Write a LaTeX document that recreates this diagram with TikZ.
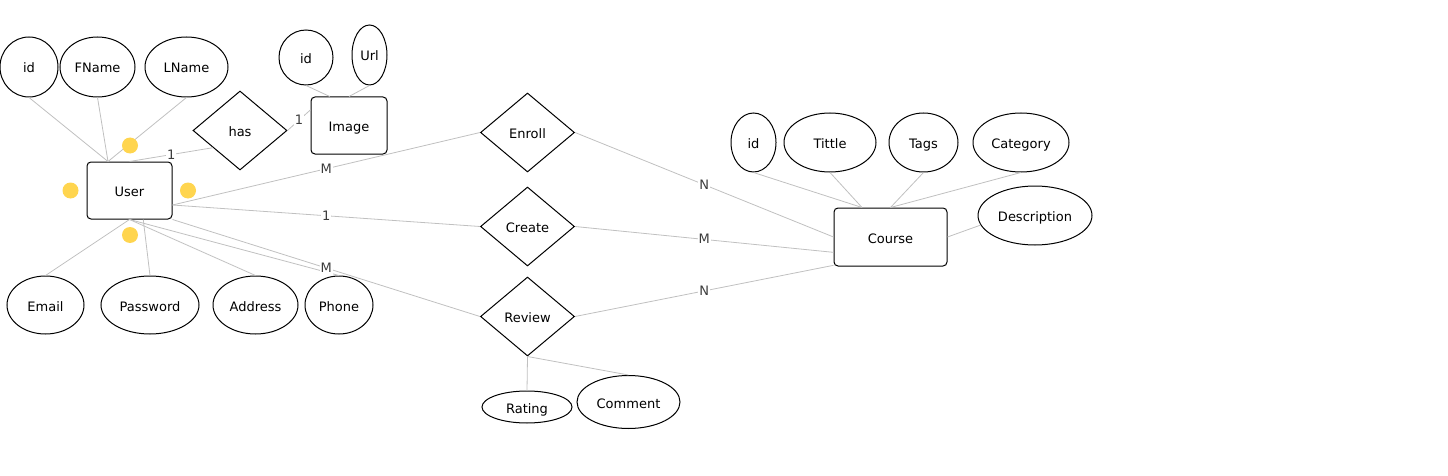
\documentclass[tikz,border=0pt]{standalone}
\usepackage{fontspec}
\setmainfont{DejaVu Sans}
\usetikzlibrary{shapes.geometric,calc}
\definecolor{linegray}{RGB}{192,192,192}
\definecolor{dotyellow}{RGB}{255,213,79}
\definecolor{cardgray}{RGB}{60,60,60}

\begin{document}
\begin{tikzpicture}[x=1pt, y=-1pt,
  every node/.style = {font=\fontsize{13}{15}\selectfont, inner sep=0pt,
    text height=12pt, text depth=0pt},
  entity/.style 2 args = {draw, line width=1pt, rounded corners=4pt,
    minimum width=#1, minimum height=#2},
  attr/.style 2 args = {draw, ellipse, line width=1pt,
    minimum width=#1, minimum height=#2},
  rel/.style = {draw, diamond, line width=1pt,
    minimum width=94pt, minimum height=79pt},
  link/.style = {draw=linegray, line width=0.8pt},
  card/.style = {fill=white, text=cardgray, inner sep=1pt,
    text height=10pt, text depth=1pt},
  hint/.style = {circle, fill=dotyellow, minimum size=16pt}]
  \useasboundingbox (0,0) rectangle (1448,476);

  \node[entity={85pt}{57pt}] (user) at (129.5,190.5) {User};
  \node[attr={58pt}{60pt}] (uid) at (29,67) {id};
  \node[attr={75pt}{60pt}] (fname) at (97.5,67) {FName};
  \node[attr={83pt}{60pt}] (lname) at (186.5,67) {LName};
  \node[attr={77pt}{58pt}] (email) at (45.5,305) {Email};
  \node[attr={98pt}{58pt}] (password) at (150,305) {Password};
  \node[attr={85pt}{58pt}] (address) at (255.5,305) {Address};
  \node[attr={68pt}{58pt}] (phone) at (339,305) {Phone};

  \node[rel] (has) at (240,130.5) {has};
  \node[entity={76pt}{57pt}] (image) at (349,125.5) {Image};
  \node[attr={54pt}{55pt}] (imgid) at (306,57.5) {id};
  \node[attr={35pt}{60pt}] (url) at (369.5,55) {Url};

  \node[rel] (enroll) at (527.5,132.5) {Enroll};
  \node[rel] (create) at (527.5,226.5) {Create};
  \node[rel] (review) at (527.5,316.5) {Review};
  \node[attr={90pt}{32pt}] (rating) at (527,407) {Rating};
  \node[attr={103pt}{53pt}] (comment) at (628.5,402) {Comment};

  \node[entity={113pt}{58pt}] (course) at (890.5,237) {Course};
  \node[attr={45pt}{59pt}] (cid) at (753.5,142.5) {id};
  \node[attr={92pt}{59pt}] (tittle) at (830,142.5) {Tittle};
  \node[attr={69pt}{59pt}] (tags) at (923.5,142.5) {Tags};
  \node[attr={96pt}{59pt}] (category) at (1021,142.5) {Category};
  \node[attr={114pt}{59pt}] (description) at (1035,215.5) {Description};

  \coordinate (userkey) at ($(user.north west)!0.25!(user.north east)$);
  \coordinate (userside) at ($(user.north east)!0.75!(user.south east)$);
  \coordinate (coursekey) at ($(course.north west)!0.25!(course.north east)$);

  \draw[link] (uid.south) -- (userkey);
  \draw[link] (fname.south) -- (userkey);
  \draw[link] (lname.south) -- (userkey);
  \draw[link] (user.south) -- (email.north);
  \draw[link] ($(user.south west)!0.66!(user.south east)$) -- (password.north);
  \draw[link] (user.south) -- (address.north);
  \draw[link] (user.south) -- (phone.north);
  \draw[link] (imgid.south) -- ($(image.north west)!0.25!(image.north east)$);
  \draw[link] (url.south) -- (image.north);
  \draw[link] (user.north) -- node[card] {1} ($(has.west)!0.43!(has.south)$);
  \draw[link] (has.east) -- node[card] {1} ($(image.north west)!0.23!(image.south west)$);
  \draw[link] (userside) -- node[card] {M} (enroll.west);
  \draw[link] (userside) -- node[card] {1} (create.west);
  \draw[link] (user.south east) -- node[card] {M} (review.west);
  \draw[link] (enroll.east) -- node[card] {N} (course.west);
  \draw[link] (create.east) -- node[card] {M} ($(course.north west)!0.76!(course.south west)$);
  \draw[link] (review.east) -- node[card] {N} ($(course.north west)!0.98!(course.south west)$);
  \draw[link] (review.south) -- (rating.north);
  \draw[link] (review.south) -- (comment.north);
  \draw[link] (cid.south) -- (coursekey);
  \draw[link] (tittle.south) -- (coursekey);
  \draw[link] (tags.south) -- (course.north);
  \draw[link] (category.south) -- (course.north);
  \draw[link] (description.190) -- (course.east);

  \node[hint] (dottop) at (130,145.5) {};
  \node[hint] (dotleft) at (70.5,190.5) {};
  \node[hint] (dotright) at (188,190.5) {};
  \node[hint] (dotbottom) at (130,235) {};
\end{tikzpicture}
\end{document}
